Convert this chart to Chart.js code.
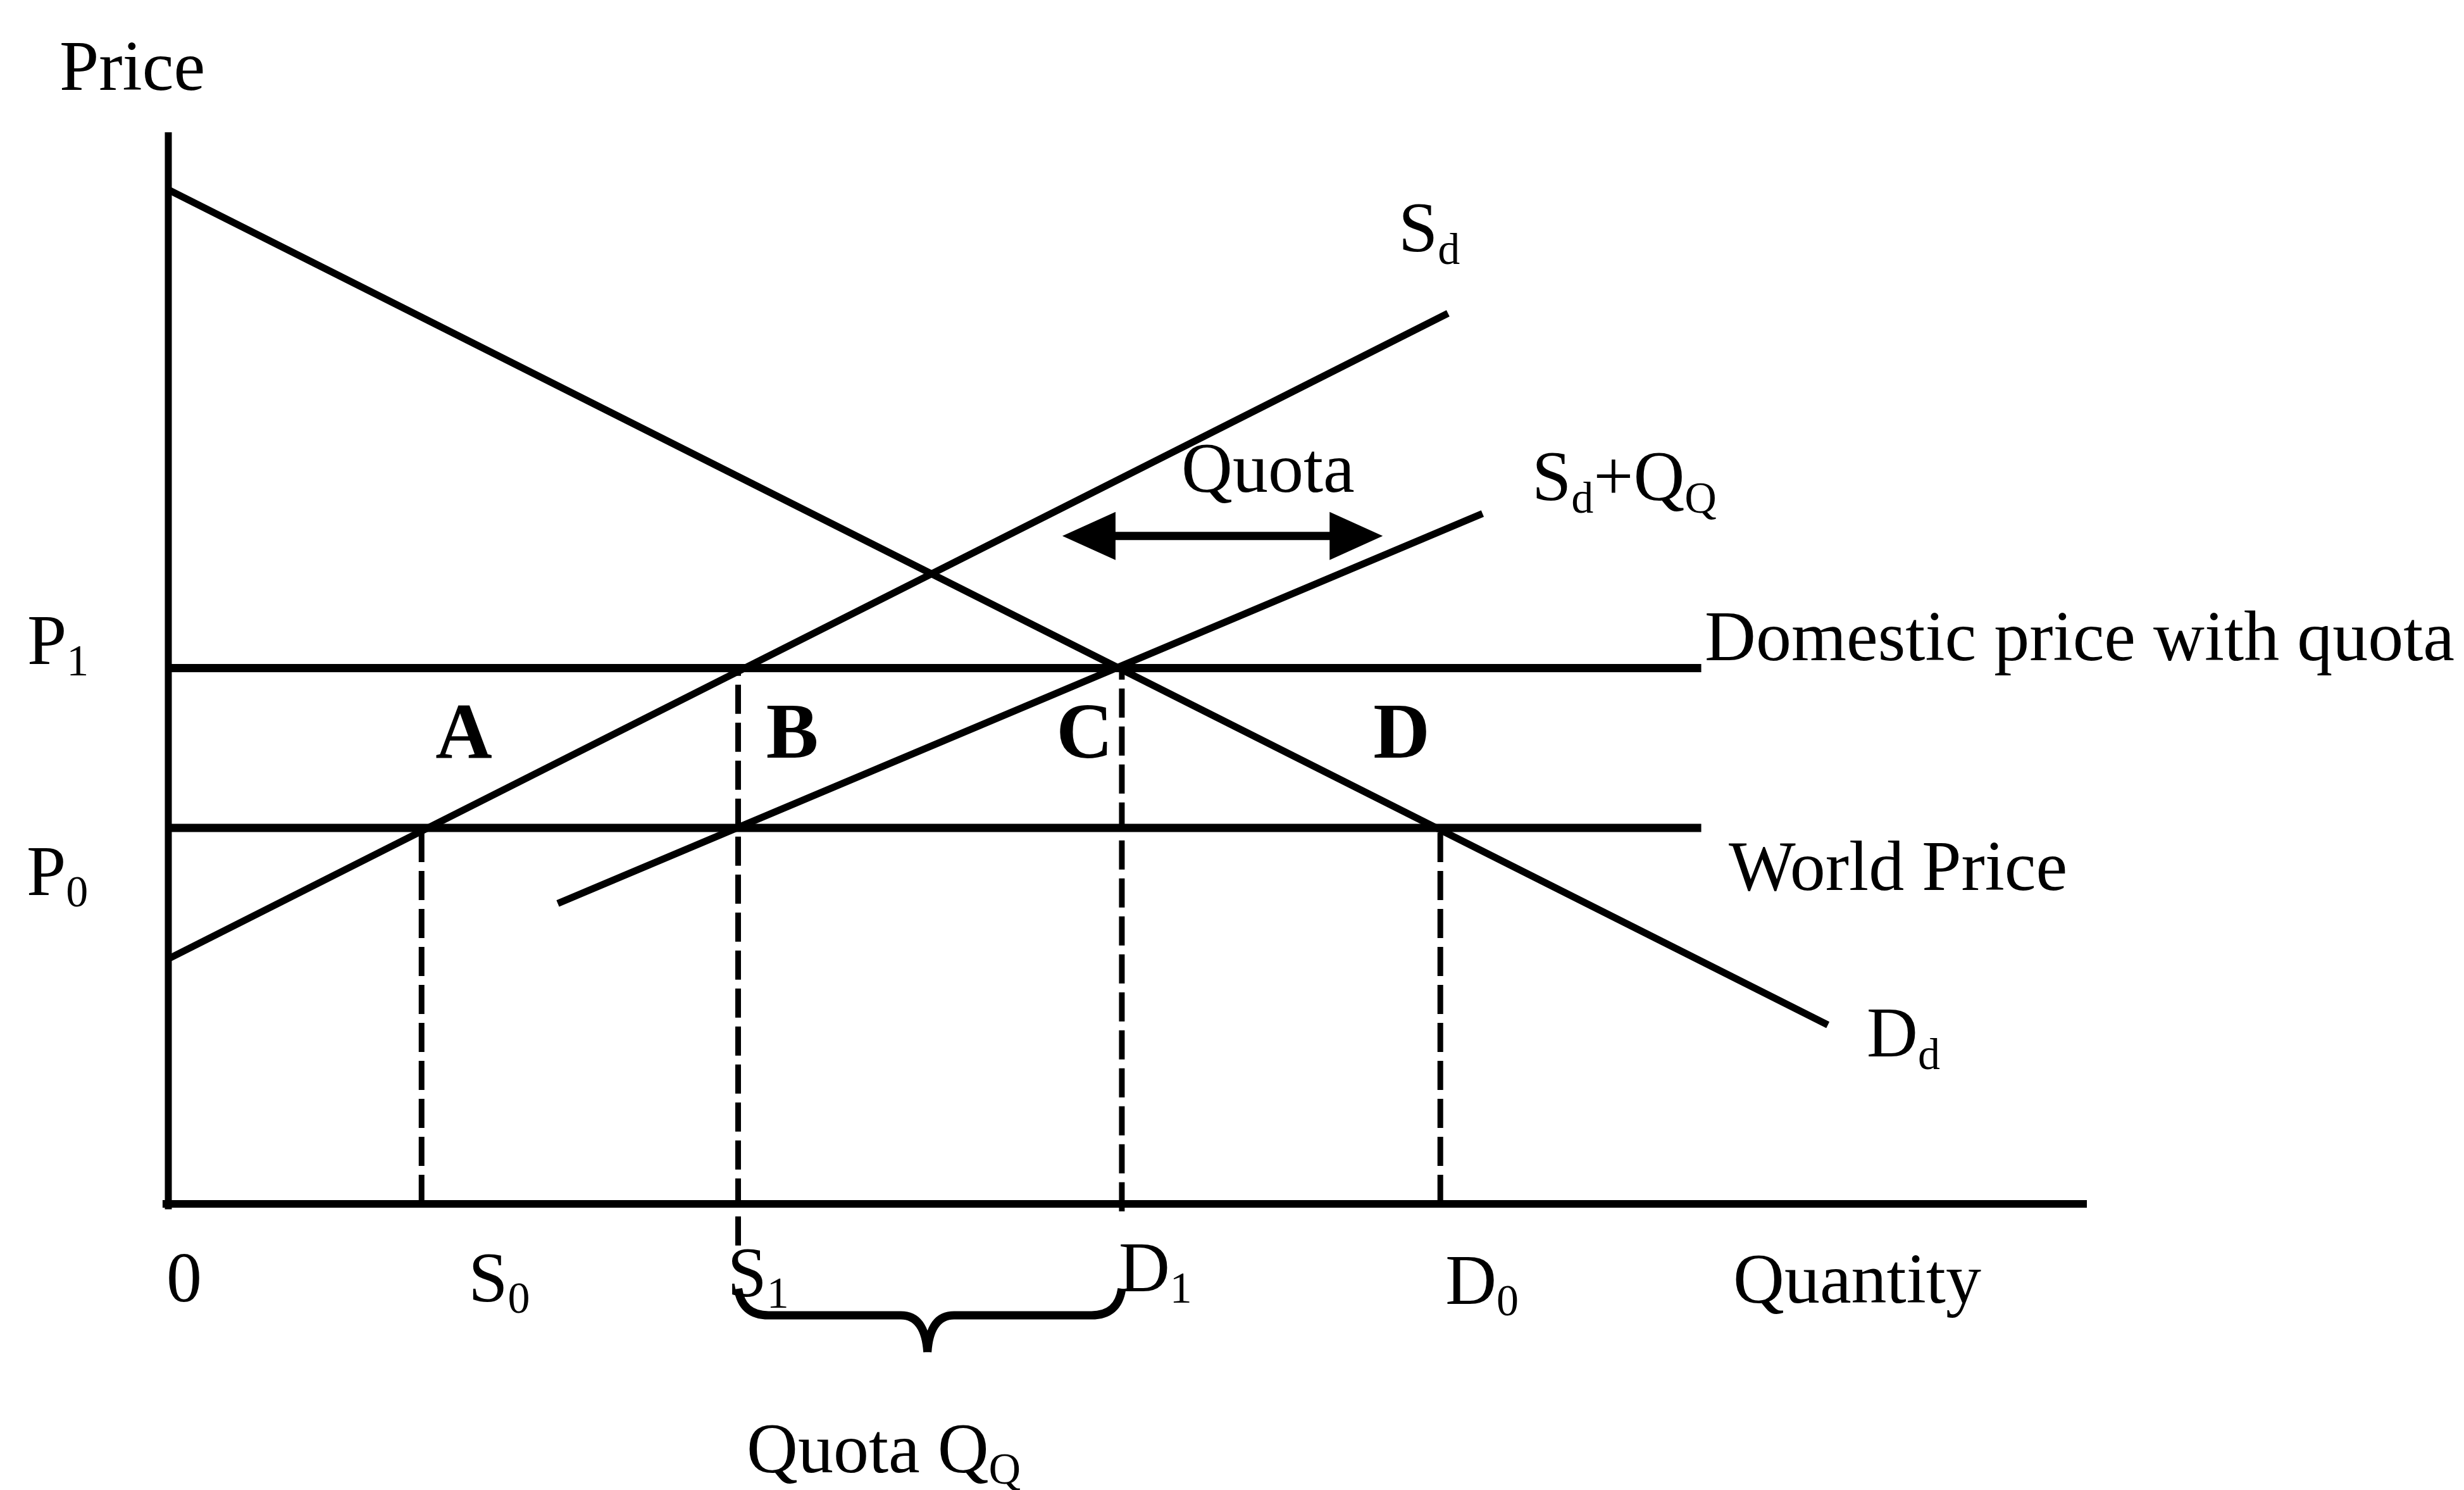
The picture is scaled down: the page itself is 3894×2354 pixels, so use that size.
<!DOCTYPE html>
<html>
<head>
<meta charset="utf-8">
<script src="https://cdn.jsdelivr.net/npm/chart.js@4.4.1/dist/chart.umd.min.js"></script>
<style>
  html, body { margin: 0; padding: 0; background: #fff; }
</style>
</head>
<body>
<canvas id="quotaChart" width="3894" height="2354"></canvas>
<script>
// quantities marked on the x axis ("_" = next char is a subscript)
const qtyNames = ['0', 'S_0', 'S_1', 'D_1', 'D_0'];
const qtyValues = [0, 13.2, 29.7, 49.7, 66.3];
// price levels marked on the y axis
const priceNames = ['P_1', 'P_0'];
const priceValues = [50.3, 35.3];

// curves (quantity, price)
const demandQ = [0, 86.5];
const demandP = [95.2, 16.8];
const supplyQ = [0, 66.7];
const supplyP = [23.0, 83.6];
const supplyQuotaQ = [20.3, 68.5];
const supplyQuotaP = [28.2, 64.8];
const priceLineEnd = 79.9;

// dashed drop lines: quantity index -> price reached, lowest point
const dropPrice = [null, 35.3, 50.3, 50.3, 35.3];
const dropLow = [null, 0, -3.9, -0.7, 0];

// quota arrow span
const quotaArrowQ = [46.6, 63.3];
const quotaArrowP = 62.7;

const serif = '"Liberation Serif", "Times New Roman", serif';
const mainFont = '112px ' + serif;
const subFont = '70px ' + serif;
const boldFont = 'bold 124px ' + serif;

function pts(xs, ys) {
    return xs.map((x, i) => ({ x: x, y: ys[i] }));
}

function solid(data, width) {
    return {
        data: data,
        showLine: true,
        borderColor: '#000',
        borderWidth: width || 11,
        pointRadius: 0,
        clip: false
    };
}

const datasets = [
    // axes
    solid([{ x: 0, y: -0.5 }, { x: 0, y: 100.6 }], 11),
    solid([{ x: -0.3, y: 0 }, { x: 100, y: 0 }], 12),
    // price levels
    solid([{ x: 0, y: priceValues[0] }, { x: priceLineEnd, y: priceValues[0] }], 13),
    solid([{ x: 0, y: priceValues[1] }, { x: priceLineEnd, y: priceValues[1] }], 13),
    // curves
    solid(pts(demandQ, demandP), 11),
    solid(pts(supplyQ, supplyP), 11),
    solid(pts(supplyQuotaQ, supplyQuotaP), 11)
];

qtyValues.forEach((q, i) => {
    if (dropPrice[i] === null) return;
    const ds = solid([{ x: q, y: dropLow[i] }, { x: q, y: dropPrice[i] }], 9);
    ds.borderDash = [46, 14];
    datasets.push(ds);
});

// text with "_x" subscripts
function drawRich(ctx, str, x, y, font, sFont, drop) {
    let cx = x;
    for (let i = 0; i < str.length; i++) {
        let ch = str[i];
        let isSub = false;
        if (ch === '_' && i + 1 < str.length) {
            i++;
            ch = str[i];
            isSub = true;
        }
        ctx.font = isSub ? sFont : font;
        ctx.fillText(ch, cx, isSub ? y + drop : y);
        cx += ctx.measureText(ch).width;
    }
}

const textPlugin = {
    id: 'quotaText',
    afterDraw(chart) {
        const ctx = chart.ctx;
        const xs = chart.scales.x;
        const ys = chart.scales.y;
        ctx.save();
        ctx.fillStyle = '#000';
        ctx.textBaseline = 'alphabetic';
        ctx.textAlign = 'left';

        // axis titles
        ctx.font = mainFont;
        ctx.fillText('Price', 94, 142);
        ctx.fillText('Quantity', 2739, 2058);

        // quantity tick names
        const qDx = [-3, 74, -17, -5, 8];
        const qBase = [2056, 2056, 2048, 2040, 2060];
        qtyNames.forEach((n, i) => {
            drawRich(ctx, n, xs.getPixelForValue(qtyValues[i]) + qDx[i], qBase[i], mainFont, subFont, 18);
        });

        // price names
        drawRich(ctx, priceNames[0], 43, ys.getPixelForValue(priceValues[0]) - 6, mainFont, subFont, 18);
        drawRich(ctx, priceNames[1], 42, ys.getPixelForValue(priceValues[1]) + 106, mainFont, subFont, 18);

        // curve names
        drawRich(ctx, 'S_d', 2210, 397, mainFont, subFont, 20);
        drawRich(ctx, 'S_d+Q_Q', 2421, 790, mainFont, subFont, 20);
        drawRich(ctx, 'D_d', 2950, 1669, mainFont, subFont, 20);
        ctx.font = mainFont;
        ctx.fillText('Domestic price with quota', 2694, 1043);
        ctx.fillText('World Price', 2732, 1406);
        ctx.fillText('Quota', 1867, 777);
        drawRich(ctx, 'Quota Q_Q', 1180, 2326, mainFont, subFont, 18);

        // area letters
        ctx.font = boldFont;
        ctx.textAlign = 'center';
        [['A', 733], ['B', 1252], ['C', 1714], ['D', 2215]].forEach(a => {
            ctx.fillText(a[0], a[1], 1197);
        });

        // double arrow for the quota
        const ax = xs.getPixelForValue(quotaArrowQ[0]);
        const bx = xs.getPixelForValue(quotaArrowQ[1]);
        const ay = ys.getPixelForValue(quotaArrowP);
        const head = 84, half = 38;
        ctx.lineWidth = 13;
        ctx.strokeStyle = '#000';
        ctx.beginPath();
        ctx.moveTo(ax + head - 4, ay);
        ctx.lineTo(bx - head + 4, ay);
        ctx.stroke();
        ctx.beginPath();
        ctx.moveTo(ax, ay);
        ctx.lineTo(ax + head, ay - half);
        ctx.lineTo(ax + head, ay + half);
        ctx.closePath();
        ctx.moveTo(bx, ay);
        ctx.lineTo(bx - head, ay - half);
        ctx.lineTo(bx - head, ay + half);
        ctx.closePath();
        ctx.fill();

        // brace under S1..D1
        const x1 = xs.getPixelForValue(qtyValues[2]);
        const x2 = xs.getPixelForValue(qtyValues[3]);
        const mid = (x1 + x2) / 2 - 4;
        const top = 2036, flat = 2078, tip = 2136;
        ctx.lineWidth = 13;
        ctx.lineJoin = 'round';
        ctx.beginPath();
        ctx.moveTo(x1, top);
        ctx.quadraticCurveTo(x1 + 6, flat, x1 + 48, flat);
        ctx.lineTo(mid - 42, flat);
        ctx.quadraticCurveTo(mid - 4, flat, mid, tip);
        ctx.moveTo(mid, tip);
        ctx.quadraticCurveTo(mid + 4, flat, mid + 42, flat);
        ctx.lineTo(x2 - 48, flat);
        ctx.quadraticCurveTo(x2 - 6, flat, x2, top);
        ctx.stroke();

        ctx.restore();
    }
};

new Chart(document.getElementById('quotaChart'), {
    type: 'scatter',
    data: { datasets: datasets },
    plugins: [textPlugin],
    options: {
        responsive: false,
        animation: false,
        devicePixelRatio: 1,
        layout: {
            padding: { left: 266, right: 596, top: 219, bottom: 452 }
        },
        plugins: {
            legend: { display: false },
            tooltip: { enabled: false }
        },
        scales: {
            x: { type: 'linear', display: false, min: 0, max: 100 },
            y: { type: 'linear', display: false, min: 0, max: 100 }
        }
    }
});
</script>
</body>
</html>
